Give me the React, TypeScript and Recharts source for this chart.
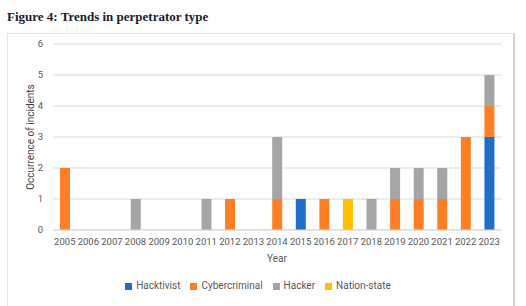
import React from "react";
import {
  BarChart,
  Bar,
  XAxis,
  YAxis,
  CartesianGrid,
  Legend,
} from "recharts";

/* ── data ── */
const years = [
  "2005", "2006", "2007", "2008", "2009", "2010", "2011", "2012", "2013", "2014",
  "2015", "2016", "2017", "2018", "2019", "2020", "2021", "2022", "2023",
];
const hacktivist    = [0, 0, 0, 0, 0, 0, 0, 0, 0, 0, 1, 0, 0, 0, 0, 0, 0, 0, 3];
const cybercriminal = [2, 0, 0, 0, 0, 0, 0, 1, 0, 1, 0, 1, 0, 0, 1, 1, 1, 3, 1];
const hacker        = [0, 0, 0, 1, 0, 0, 1, 0, 0, 2, 0, 0, 0, 1, 1, 1, 1, 0, 1];
const nationState   = [0, 0, 0, 0, 0, 0, 0, 0, 0, 0, 0, 0, 1, 0, 0, 0, 0, 0, 0];
const yTicks = [0, 1, 2, 3, 4, 5, 6];

const series = [
  { key: "hacktivist",    name: "Hacktivist",   color: "#1f6fc8" },
  { key: "cybercriminal", name: "Cybercriminal", color: "#ff7f27" },
  { key: "hacker",        name: "Hacker",       color: "#a5a5a5" },
  { key: "nationState",   name: "Nation-state", color: "#ffc000" },
];

const rows = years.map((y, i) => ({
  year: y,
  hacktivist: hacktivist[i],
  cybercriminal: cybercriminal[i],
  hacker: hacker[i],
  nationState: nationState[i],
}));

const FONT = "Roboto, 'Liberation Sans', sans-serif";
const GREY = "#595959";

// keep legend in series order (recharts 3 sorts by name otherwise)
const legendOrder = (item: any) => series.findIndex((s) => s.name === item.value);

export default function App() {
  return (
    <div style={{ position: "absolute", left: 0, top: 0, width: 526, height: 306, background: "#fff" }}>
      {/* ── title ── */}
      <div
        style={{
          position: "absolute",
          left: 7,
          top: 9,
          fontFamily: "'Liberation Serif', 'DejaVu Serif', serif",
          fontWeight: 700,
          fontSize: 13,
          color: "#1c1c30",
          whiteSpace: "nowrap",
        }}
      >
        Figure 4: Trends in perpetrator type
      </div>

      {/* ── frame ── */}
      <div
        style={{
          position: "absolute",
          left: 7,
          top: 33,
          width: 505,
          height: 280,
          borderLeft: "1px solid #e6e6e6",
          borderTop: "1px solid #e6e6e6",
          borderRight: "2px solid #d4d4d4",
        }}
      />

      <div style={{ position: "absolute", left: 0, top: 0 }}>
        <BarChart
          width={526}
          height={306}
          data={rows}
          margin={{ top: 44, right: 25, bottom: 36, left: 0 }}
          barSize={10}
        >
          <CartesianGrid vertical={false} stroke="#d9d9d9" />
          <XAxis
            dataKey="year"
            interval={0}
            tickLine={false}
            axisLine={{ stroke: "#d9d9d9" }}
            height={40}
            tick={{ fill: GREY, fontSize: 9.5, fontFamily: FONT }}
            label={{
              value: "Year",
              position: "insideBottom",
              offset: 8,
              fill: GREY,
              fontSize: 10,
              fontFamily: FONT,
            }}
          />
          <YAxis
            domain={[0, 6]}
            ticks={yTicks}
            width={53}
            tickLine={false}
            axisLine={false}
            tickMargin={4}
            tick={{ fill: GREY, fontSize: 9.5, fontFamily: FONT }}
            label={{
              value: "Occurrence of incidents",
              angle: -90,
              position: "insideLeft",
              offset: 30,
              fill: "#404040",
              fontSize: 10,
              fontFamily: FONT,
              style: { textAnchor: "middle" },
            }}
          />
          <Legend
            layout="horizontal"
            verticalAlign="middle"
            align="center"
            iconType="square"
            iconSize={7}
            itemSorter={legendOrder}
            wrapperStyle={{ top: 280, left: 0, width: 526, fontFamily: FONT, fontSize: 10 }}
            formatter={(v: string) => <span style={{ color: GREY }}>{v}</span>}
          />
          {series.map((s) => (
            <Bar
              key={s.key}
              dataKey={s.key}
              name={s.name}
              stackId="a"
              fill={s.color}
              isAnimationActive={false}
            />
          ))}
        </BarChart>
      </div>
    </div>
  );
}
